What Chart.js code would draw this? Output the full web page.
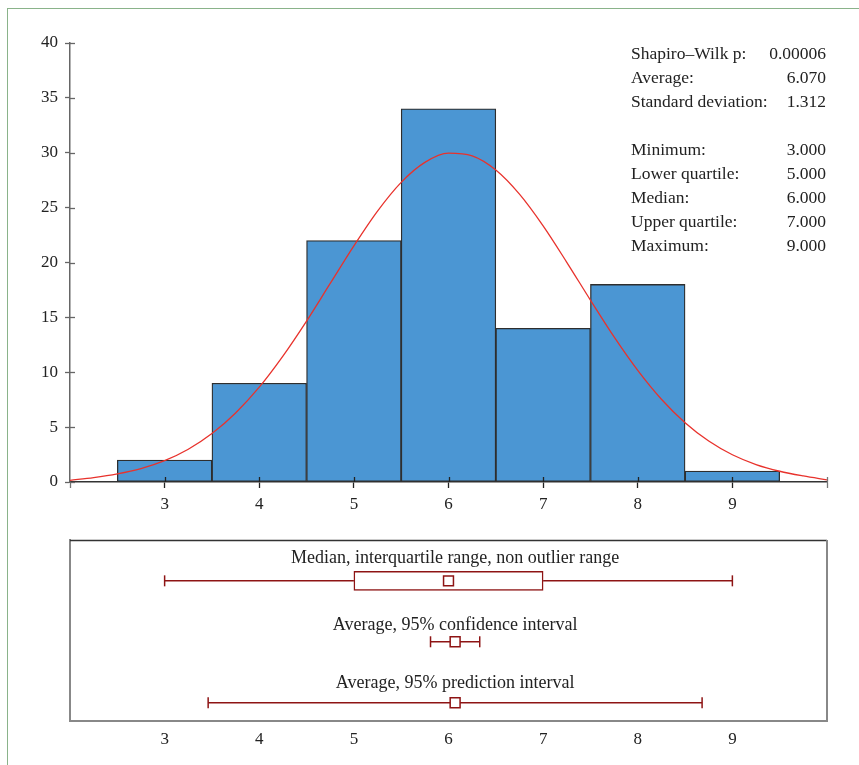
<!DOCTYPE html>
<html>
<head>
<meta charset="utf-8">
<script src="https://cdn.jsdelivr.net/npm/chart.js@4/dist/chart.umd.min.js"></script>
<style>
  html, body { margin: 0; padding: 0; background: #fff; }
  body { width: 859px; height: 765px; position: relative; overflow: hidden; }
  #frame { position: absolute; left: 7px; top: 8px; width: 900px; height: 800px;
           border-left: 1px solid #8ab38a; border-top: 1px solid #8ab38a; }
  #histWrap { position: absolute; left: 0; top: 0; width: 859px; height: 520px; }
  #boxWrap { position: absolute; left: 0; top: 520px; width: 859px; height: 245px; }
</style>
</head>
<body>
<div id="frame"></div>
<div id="histWrap"><canvas id="hist" width="859" height="520"></canvas></div>
<div id="boxWrap"><canvas id="box" width="859" height="245"></canvas></div>
<script>
// ---------- data ----------
const binCenters = [3, 4, 5, 6, 7, 8, 9];
const binCounts  = [2, 9, 22, 34, 14, 18, 1];

const curveX = [2, 2.25, 2.5, 2.75, 3, 3.25, 3.5, 3.75, 4, 4.25, 4.5, 4.75, 5, 5.25, 5.5, 5.75,
                6, 6.25, 6.5, 6.75, 7, 7.25, 7.5, 7.75, 8, 8.25, 8.5, 8.75, 9, 9.25, 9.5, 9.75, 10];
const curveY = [0.15, 0.4, 0.74, 1.22, 1.94, 2.98, 4.41, 6.29, 8.64, 11.47, 14.66, 18.09, 21.51, 24.68, 27.30, 29.12,
                29.96, 29.72, 28.43, 26.23, 23.34, 20.02, 16.57, 13.22, 10.17, 7.54, 5.40, 3.73, 2.48, 1.59, 0.98, 0.55, 0.2];

const xTickValues = [2, 3, 4, 5, 6, 7, 8, 9, 10];
const xTickLabels = ['', '3', '4', '5', '6', '7', '8', '9', ''];
const yTickValues = [0, 5, 10, 15, 20, 25, 30, 35, 40];

const statLabels = ['Shapiro\u2013Wilk p:', 'Average:', 'Standard deviation:', '', 'Minimum:', 'Lower quartile:', 'Median:', 'Upper quartile:', 'Maximum:'];
const statValues = ['0.00006', '6.070', '1.312', '', '3.000', '5.000', '6.000', '7.000', '9.000'];

// box plot rows
const boxRowLabels = ['Median, interquartile range, non outlier range', 'Average, 95% confidence interval', 'Average, 95% prediction interval'];
const boxWhisker = [3, 9];       // non outlier range
const boxQuartiles = [5, 7];     // interquartile range
const boxMedian = 6;
const ciRange = [5.81, 6.33];
const ciMean = 6.07;
const piRange = [3.46, 8.68];
const piMean = 6.07;

// ---------- styles ----------
const FONT = "'Liberation Serif', 'Times New Roman', serif";
const TXT = '#222';
const DARKRED = '#8e1414';
const BAR_FILL = '#4b96d3';
const BAR_EDGE = '#2e2e2e';
const CURVE = '#e8322c';

Chart.defaults.font.family = FONT;
Chart.defaults.font.size = 17;
Chart.defaults.color = TXT;

// inward half of tick marks for histogram + statistics text
const innerTicks = {
  id: 'innerTicks',
  afterDatasetsDraw(chart) {
    const { ctx, scales: { x, y }, chartArea } = chart;
    ctx.save();
    ctx.lineWidth = 1.3;
    xTickValues.forEach(v => {
      if (v === 2) return;
      const px = Math.round(x.getPixelForValue(v)) + 0.5;
      ctx.strokeStyle = (v === 10) ? '#777' : '#222';
      ctx.beginPath();
      ctx.moveTo(px, chartArea.bottom - 5);
      ctx.lineTo(px, chartArea.bottom);
      ctx.stroke();
    });
    ctx.strokeStyle = '#666';
    yTickValues.forEach(v => {
      const py = Math.round(y.getPixelForValue(v)) + 0.5;
      ctx.beginPath();
      ctx.moveTo(chartArea.left, py);
      ctx.lineTo(chartArea.left + 5, py);
      ctx.stroke();
    });
    ctx.restore();
  },
  afterDraw(chart) {
    const { ctx } = chart;
    ctx.save();
    ctx.font = '17.5px ' + FONT;
    ctx.fillStyle = TXT;
    ctx.textBaseline = 'alphabetic';
    statLabels.forEach((lab, i) => {
      const by = 58.5 + i * 24;
      ctx.textAlign = 'left';
      ctx.fillText(lab, 631, by);
      ctx.textAlign = 'right';
      ctx.fillText(statValues[i], 826, by);
    });
    ctx.restore();
  }
};

new Chart(document.getElementById('hist'), {
  type: 'bar',
  data: {
    datasets: [
      {
        type: 'line',
        data: curveX.map((xv, i) => ({ x: xv, y: curveY[i] })),
        borderColor: CURVE,
        borderWidth: 1.3,
        pointRadius: 0,
        cubicInterpolationMode: 'monotone',
        fill: false,
        order: 0
      },
      {
        type: 'bar',
        data: binCenters.map((c, i) => ({ x: c, y: binCounts[i] })),
        backgroundColor: BAR_FILL,
        borderColor: BAR_EDGE,
        borderWidth: 1.3,
        borderSkipped: false,
        barPercentage: 1,
        categoryPercentage: 1,
        order: 1
      }
    ]
  },
  options: {
    responsive: false,
    animation: false,
    events: [],
    layout: { padding: { left: 0, top: 43, right: 32, bottom: 0 } },
    plugins: { legend: { display: false }, tooltip: { enabled: false } },
    scales: {
      x: {
        type: 'linear',
        min: 2, max: 10,
        offset: false,
        afterFit(s) { s.height = 38; },
        afterBuildTicks(s) { s.ticks = xTickValues.map(v => ({ value: v })); },
        ticks: {
          autoSkip: false,
          padding: 6,
          maxRotation: 0,
          callback(v) { const i = xTickValues.indexOf(v); return i >= 0 ? xTickLabels[i] : ''; }
        },
        grid: {
          offset: false,
          drawOnChartArea: false,
          tickLength: 6,
          tickWidth: 1.3,
          tickColor: c => (c.tick && (c.tick.value === 2 || c.tick.value === 10)) ? '#777' : '#222'
        },
        border: { color: '#333', width: 1.5 }
      },
      y: {
        min: 0, max: 40,
        offset: false,
        afterFit(s) { s.width = 70; },
        afterBuildTicks(s) { s.ticks = yTickValues.map(v => ({ value: v })); },
        ticks: { padding: 7 },
        grid: { offset: false, drawOnChartArea: false, tickLength: 5, tickWidth: 1.3, tickColor: '#666' },
        border: { color: '#666', width: 1.5 }
      }
    }
  },
  plugins: [innerTicks]
});

// ---------- box plot panel ----------
const boxDecor = {
  id: 'boxDecor',
  beforeDatasetsDraw(chart) {
    const { ctx, chartArea: a } = chart;
    ctx.save();
    ctx.lineWidth = 1.3;
    ctx.strokeStyle = '#333';
    ctx.beginPath(); ctx.moveTo(a.left, a.top + 0.5); ctx.lineTo(a.right, a.top + 0.5); ctx.stroke();
    ctx.strokeStyle = '#888';
    ctx.lineWidth = 2;
    ctx.beginPath(); ctx.moveTo(a.right, a.top); ctx.lineTo(a.right, a.bottom); ctx.stroke();
    ctx.restore();
  },
  afterDraw(chart) {
    const { ctx, scales: { x, y } } = chart;
    ctx.save();
    ctx.font = '18px ' + FONT;
    ctx.fillStyle = TXT;
    ctx.textAlign = 'center';
    ctx.textBaseline = 'alphabetic';
    const offs = [-17.5, -11.5, -14.5];
    boxRowLabels.forEach((lab, i) => {
      ctx.fillText(lab, x.getPixelForValue(ciMean), y.getPixelForValue(i) + offs[i]);
    });
    ctx.restore();
  }
};

const lineDs = (pts) => ({
  type: 'line', data: pts, borderColor: DARKRED, borderWidth: 1.5, pointRadius: 0, fill: false, order: 2
});

new Chart(document.getElementById('box'), {
  type: 'scatter',
  data: {
    datasets: [
      lineDs([{ x: boxWhisker[0], y: 0 }, { x: boxQuartiles[0], y: 0 }]),
      lineDs([{ x: boxQuartiles[1], y: 0 }, { x: boxWhisker[1], y: 0 }]),
      lineDs([{ x: ciRange[0], y: 1 }, { x: ciRange[1], y: 1 }]),
      lineDs([{ x: piRange[0], y: 2 }, { x: piRange[1], y: 2 }]),
      {
        type: 'bar',
        indexAxis: 'y',
        data: [{ y: 0, x: boxQuartiles }],
        backgroundColor: '#ffffff',
        borderColor: DARKRED,
        borderWidth: 1.5,
        borderSkipped: false,
        barThickness: 19,
        order: 1
      },
      {
        type: 'scatter',
        data: [
          { x: boxWhisker[0], y: 0 }, { x: boxWhisker[1], y: 0 },
          { x: ciRange[0], y: 1 }, { x: ciRange[1], y: 1 },
          { x: piRange[0], y: 2 }, { x: piRange[1], y: 2 }
        ],
        pointStyle: 'line',
        rotation: 90,
        radius: 5.5,
        borderColor: DARKRED,
        borderWidth: 1.5,
        order: 0
      },
      {
        type: 'scatter',
        data: [{ x: boxMedian, y: 0 }, { x: ciMean, y: 1 }, { x: piMean, y: 2 }],
        pointStyle: 'rect',
        radius: 7,
        backgroundColor: '#ffffff',
        borderColor: DARKRED,
        borderWidth: 1.5,
        order: 0
      }
    ]
  },
  options: {
    responsive: false,
    animation: false,
    events: [],
    layout: { padding: { left: 0, top: 20, right: 32, bottom: 0 } },
    plugins: { legend: { display: false }, tooltip: { enabled: false } },
    scales: {
      x: {
        type: 'linear',
        min: 2, max: 10,
        offset: false,
        afterFit(s) { s.height = 44; },
        afterBuildTicks(s) { s.ticks = xTickValues.map(v => ({ value: v })); },
        ticks: {
          autoSkip: false, padding: 8, maxRotation: 0,
          callback(v) { const i = xTickValues.indexOf(v); return i >= 0 ? xTickLabels[i] : ''; }
        },
        grid: { display: true, offset: false, drawOnChartArea: false, drawTicks: false },
        border: { color: '#888', width: 2 }
      },
      y: {
        type: 'linear',
        reverse: true,
        offset: false,
        min: -0.67, max: 2.3,
        afterFit(s) { s.width = 70; },
        ticks: { display: false },
        grid: { display: true, offset: false, drawOnChartArea: false, drawTicks: false },
        border: { color: '#888', width: 2 }
      }
    }
  },
  plugins: [boxDecor]
});
</script>
</body>
</html>
